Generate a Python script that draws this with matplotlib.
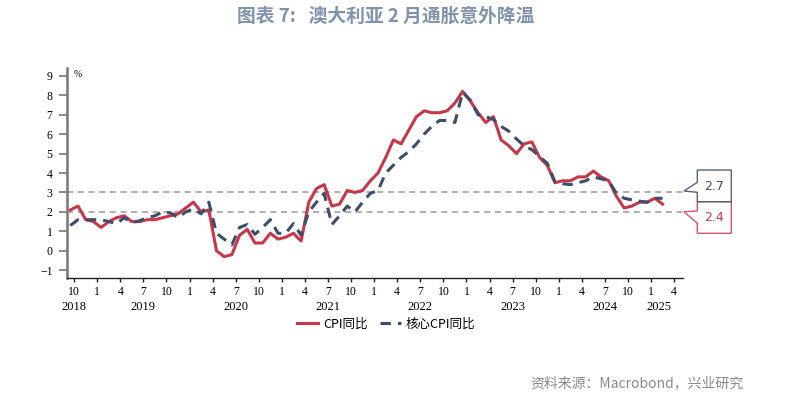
import numpy as np
import pandas as pd
import matplotlib
matplotlib.use("Agg")
import matplotlib.pyplot as plt
from matplotlib.patches import Polygon
from matplotlib.font_manager import FontProperties

# ---------------- data ----------------
start_month = "2018-09"
cpi = [2.1, 2.3, 1.6, 1.5,
       1.2, 1.5, 1.7, 1.8, 1.5, 1.5, 1.6, 1.6, 1.7, 1.8, 1.9, 2.2,
       2.5, 2.0, 2.1, 0.0, -0.3, -0.2, 0.8, 1.1, 0.4, 0.4, 0.9, 0.6,
       0.7, 0.9, 0.5, 2.5, 3.2, 3.4, 2.3, 2.4, 3.1, 3.0, 3.1, 3.6,
       4.0, 4.8, 5.7, 5.5, 6.2, 6.9, 7.2, 7.1, 7.1, 7.2, 7.6, 8.2,
       7.7, 7.1, 6.6, 6.9, 5.7, 5.4, 5.0, 5.5, 5.6, 4.8, 4.4, 3.5,
       3.6, 3.6, 3.8, 3.8, 4.1, 3.8, 3.6, 2.8, 2.2, 2.3, 2.5, 2.5,
       2.7, 2.4]
core = [1.3, 1.6, 1.6, 1.6,
        1.6, 1.5, 1.4, 1.7, 1.45, 1.55, 1.7, 1.8, 2.0, 1.95, 1.7, 2.0,
        2.15, 1.9, 2.5, 0.9, 0.6, 0.3, 1.2, 1.35, 0.85, 1.2, 1.6, 0.9,
        0.9, 1.4, 0.8, 2.0, 2.5, 2.95, 1.35, 1.8, 2.3, 2.0, 2.5, 2.95,
        3.1, 4.0, 4.4, 4.8, 5.1, 5.5, 6.0, 6.4, 6.7, 6.7, 6.6, 8.15,
        7.75, 7.0, 6.9, 6.75, 6.4, 6.15, 5.75, 5.4, 5.2, 4.85, 4.5, 3.55,
        3.45, 3.4, 3.5, 3.6, 3.8, 3.7, 3.6, 2.95, 2.7, 2.62, 2.55, 2.5,
        2.7, 2.7]
series_names = ["CPI同比", "核心CPI同比"]
ref_levels = [2, 3]
month_tick_labels = ["10", "1", "4", "7"] * 6 + ["10", "1", "4"]
year_labels = ["2018", "2019", "2020", "2021", "2022", "2023", "2024", "2025"]
year_label_months = ["2018-10", "2019-07", "2020-07", "2021-07", "2022-07",
                     "2023-07", "2024-07", "2025-02"]
title = "图表 7:   澳大利亚 2 月通胀意外降温"
source = "资料来源：Macrobond，兴业研究"

# ---------------- helpers ----------------
W, H = 786, 398
origin = pd.Period("2018-10", freq="M")
dates = pd.period_range(start_month, periods=len(cpi), freq="M")
x = np.array([(d - origin).n for d in dates]) + 0.5  # mid-month
year_x = [(pd.Period(m, freq="M") - origin).n for m in year_label_months]
tick_x = np.arange(0, 3 * len(month_tick_labels), 3)

def px(xp, yp):
    return (xp / W, 1 - yp / H)

RED = "#C8364A"
BLUE = "#3E4D6C"
serif = "Liberation Serif"
cjk = ["Noto Sans CJK SC", "DejaVu Sans"]

fig = plt.figure(figsize=(W / 100, H / 100), dpi=100)
fig.patch.set_facecolor("white")
ax = fig.add_axes([66.5 / W, 1 - 278 / H, (683 - 66.5) / W, 210 / H])

for lv in ref_levels:
    ax.axhline(lv, color="#9a9a9a", lw=1.1, ls=(0, (4, 3)), zorder=1)

l1, = ax.plot(x, cpi, color=RED, lw=2.2, zorder=3, solid_joinstyle="round")
l2, = ax.plot(x, core, color=BLUE, lw=2.2, ls=(0, (3.4, 2.3)), zorder=4)

ax.set_xlim(-1.0, 79.15)
ax.set_ylim(-1.4, 9.4)
ax.set_yticks(range(-1, 10))
ax.set_xticks(tick_x)
ax.set_xticklabels(month_tick_labels)

for s in ["top", "right"]:
    ax.spines[s].set_visible(False)
ax.spines["left"].set_color("#777777")
ax.spines["left"].set_linewidth(1.8)
ax.spines["bottom"].set_color("#222222")
ax.spines["bottom"].set_linewidth(1.0)

ax.tick_params(axis="y", direction="out", length=5.5, width=1.2, color="#777777",
               pad=4.5, labelsize=8.5, labelfontfamily=serif)
ax.tick_params(axis="x", direction="out", length=3, width=1.0, color="#222222",
               pad=3, labelsize=8.5, labelfontfamily=serif)

for yl, yx in zip(year_labels, year_x):
    ax.text(yx, -0.14, yl, transform=ax.get_xaxis_transform(), ha="center",
            va="center", fontsize=9, family=serif, clip_on=False)

ax.text(0.011, 0.971, "%", transform=ax.transAxes, ha="left", va="center",
        fontsize=7, family=serif)

# legend
fig.legend([l1, l2], series_names, loc="center",
           bbox_to_anchor=(386 / W, 1 - 324 / H), ncol=2, frameon=False,
           prop=FontProperties(family=cjk, size=9), handlelength=1.7,
           handletextpad=0.4, columnspacing=1.0)

# title & source
fig.text(*px(385.5, 16), title, ha="center", va="center", fontsize=13.5,
         fontweight="bold", color="#8192AC", family=cjk)
fig.text(*px(743, 383), source, ha="right", va="center", fontsize=10,
         color="#8a8a8a", family=cjk)

# callouts
red_pts = [px(697.3, 201.7), px(731.3, 201.7), px(731.3, 233.3), px(697.3, 233.3),
           px(697.3, 223.3), px(684, 211.7), px(697.3, 211)]
blue_pts = [px(697.3, 170), px(731.3, 170), px(731.3, 201.7), px(697.3, 201.7),
            px(697.3, 192.3), px(684, 191), px(697.3, 182.3)]
fig.patches.append(Polygon(red_pts, closed=True, facecolor="white",
                           edgecolor="#D0586A", lw=1.0, transform=fig.transFigure))
fig.patches.append(Polygon(blue_pts, closed=True, facecolor="white",
                           edgecolor="#56627E", lw=1.0, transform=fig.transFigure))
fig.text(*px(714.3, 186), f"{core[-1]:.1f}", ha="center", va="center",
         fontsize=9, color=BLUE, family="DejaVu Sans")
fig.text(*px(714.3, 217.5), f"{cpi[-1]:.1f}", ha="center", va="center",
         fontsize=9, color=RED, family="DejaVu Sans")

fig.savefig("out.png", dpi=100)
